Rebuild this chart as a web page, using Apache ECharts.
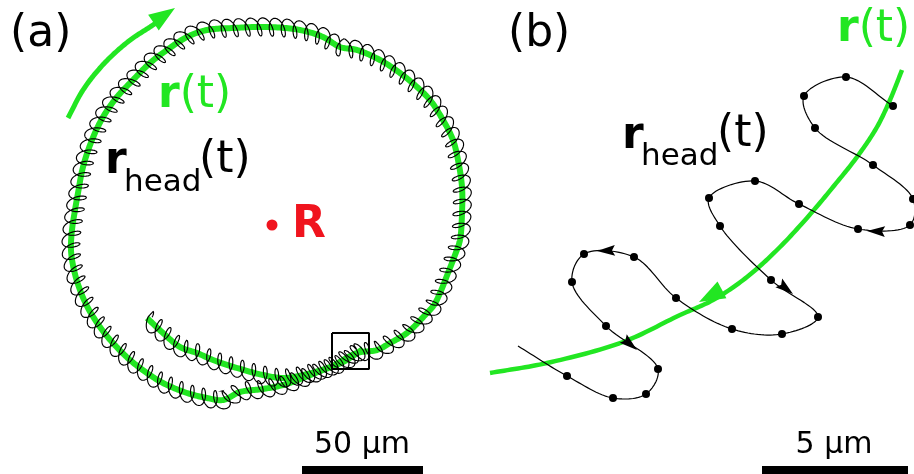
<!DOCTYPE html>
<html>
<head>
<meta charset="utf-8">
<script src="https://cdn.jsdelivr.net/npm/echarts@6/dist/echarts.min.js"></script>
<style>
  html, body { margin: 0; background: #fff; }
  #chart { width: 914px; height: 474px; }
</style>
</head>
<body>
<div id="chart"></div>
<script>
// All values in image units (x right, y down).

// (a) smoothed swimming path r(t), from the start inside the box, clockwise, to the inner end
const pathA = [
  [363, 349], [343, 362], [323, 370], [303, 378], [283, 385], [263, 389], [240, 392],
  [223, 400], [207, 398], [187, 393], [163, 383], [147, 373], [130, 360], [112, 342],
  [100, 327], [88, 308], [80, 290], [74, 270], [71, 250], [72, 230], [75, 210],
  [78, 193], [83, 167], [92, 140], [103, 117], [117, 97], [133, 80], [150, 63],
  [167, 50], [187, 37], [207, 30], [233, 28], [267, 27], [300, 30], [323, 37],
  [340, 47], [357, 50], [380, 60], [400, 73], [417, 87], [430, 100], [443, 120],
  [453, 140], [458, 160], [462, 187], [462, 213], [460, 240], [455, 255], [448, 273],
  [440, 293], [434, 305], [427, 313], [407, 333], [390, 343], [377, 350], [357, 353],
  [330, 367], [303, 375], [283, 378], [263, 375], [237, 368], [213, 360], [197, 353],
  [180, 347], [163, 333], [147, 318]
]
// (a) direction-of-motion arc, ending under its arrow tip
const arcA = [[68, 118], [83, 90], [100, 68], [117, 51], [133, 38], [150, 27], [163, 18]]
const centreR = [[272, 225]]
const boxA = [[332, 333], [369, 333], [369, 369], [332, 369], [332, 333]]
const scaleA = [[302, 470], [423, 470]]   // 50 µm

// (b) head positions sampled in time; the curve runs on to an unmarked tail
const dotsB = [
  [893, 106], [846, 77], [804, 96], [815, 128], [873, 165], [913, 199], [910, 225],
  [858, 229], [799, 204], [755, 181], [709, 198], [720, 226], [771, 280], [818, 317],
  [782, 334], [732, 329], [676, 298], [634, 257], [584, 254], [572, 282], [606, 326],
  [658, 369], [646, 394], [613, 398], [567, 376]
]
const tailB = [[518, 346]]
const greenB = [
  [902, 70], [890, 100], [877, 127], [857, 157], [833, 187], [813, 211], [780, 247],
  [747, 277], [713, 300], [680, 315], [623, 342], [547, 363], [490, 373]
]
const scaleB = [[762, 470], [908, 470]]   // 5 µm

// arrow tips: x, y, heading in degrees (counter-clockwise from +x)
const greenTips = [[175, 8, 34], [699, 302, 208]]
const blackTips = [[867, 231, 178], [793, 294, -38], [597, 251, 182], [637, 350, -40]]

const GREEN = '#22e622'
const RED = '#f0141e'
const FONT = '"DejaVu Sans", Verdana, sans-serif'

// coil drawn along the smoothed path: the head beats around r(t)
const PERIOD = 12, AMP = 9, LOOP = 5, PHASE = 0.45

function lerpAt(a, b, ta, tb, t) {
  const f = (t - ta) / (tb - ta)
  return [a[0] + (b[0] - a[0]) * f, a[1] + (b[1] - a[1]) * f]
}

// centripetal Catmull-Rom through the given pixel points
function densify(pts, n) {
  const m = pts.length
  const ext = [
    [2 * pts[0][0] - pts[1][0], 2 * pts[0][1] - pts[1][1]],
    ...pts,
    [2 * pts[m - 1][0] - pts[m - 2][0], 2 * pts[m - 1][1] - pts[m - 2][1]]
  ]
  const knot = (a, b) => Math.max(Math.sqrt(Math.hypot(b[0] - a[0], b[1] - a[1])), 1e-3)
  const out = []
  for (let i = 1; i < ext.length - 2; i++) {
    const p0 = ext[i - 1], p1 = ext[i], p2 = ext[i + 1], p3 = ext[i + 2]
    const t0 = 0, t1 = knot(p0, p1), t2 = t1 + knot(p1, p2), t3 = t2 + knot(p2, p3)
    for (let k = 0; k < n; k++) {
      const t = t1 + (t2 - t1) * k / n
      const a1 = lerpAt(p0, p1, t0, t1, t), a2 = lerpAt(p1, p2, t1, t2, t), a3 = lerpAt(p2, p3, t2, t3, t)
      const b1 = lerpAt(a1, a2, t0, t2, t), b2 = lerpAt(a2, a3, t1, t3, t)
      out.push(lerpAt(b1, b2, t1, t2, t))
    }
  }
  out.push(pts[m - 1])
  return out
}

function smoothCurve(points, color, width) {
  return function (params, api) {
    if (params.dataIndex !== 0) return null
    return {
      type: 'polyline',
      shape: { points: densify(points.map(p => api.coord(p)), 16) },
      style: { stroke: color, lineWidth: width, fill: null, lineJoin: 'round' }
    }
  }
}

function renderCoil(params, api) {
  if (params.dataIndex !== 0) return null
  const dense = densify(pathA.map(p => api.coord(p)), 16)
  const len = [0]
  for (let i = 1; i < dense.length; i++) {
    len.push(len[i - 1] + Math.hypot(dense[i][0] - dense[i - 1][0], dense[i][1] - dense[i - 1][1]))
  }
  const total = len[len.length - 1]
  let idx = 0
  function at(s) {
    s = Math.max(0, Math.min(total - 1e-6, s))
    while (idx > 0 && len[idx] > s) idx--
    while (idx < len.length - 2 && len[idx + 1] < s) idx++
    const a = dense[idx], b = dense[idx + 1]
    const seg = len[idx + 1] - len[idx] || 1
    const f = (s - len[idx]) / seg
    return { x: a[0] + (b[0] - a[0]) * f, y: a[1] + (b[1] - a[1]) * f,
             tx: (b[0] - a[0]) / seg, ty: (b[1] - a[1]) / seg }
  }
  const pts = []
  for (let s = 0; s <= total; s += 0.25) {
    const th = 2 * Math.PI * s / PERIOD
    const q = at(s + LOOP * Math.cos(th))
    const n = AMP * Math.sin(th + PHASE)
    pts.push([q.x - q.ty * n, q.y + q.tx * n])
  }
  return {
    type: 'polyline',
    shape: { points: pts },
    style: { stroke: '#000', lineWidth: 1.15, fill: null }
  }
}

function arrowHead(length, width, notch, color) {
  return function (params, api) {
    const tip = api.coord([api.value(0), api.value(1)])
    const a = api.value(2) * Math.PI / 180
    const dx = Math.cos(a), dy = -Math.sin(a)
    const bx = tip[0] - dx * length, by = tip[1] - dy * length
    const h = width / 2
    return {
      type: 'polygon',
      shape: { points: [
        tip,
        [bx - dy * h, by + dx * h],
        [bx + dx * notch, by + dy * notch],
        [bx + dy * h, by - dx * h]
      ] },
      style: { fill: color }
    }
  }
}

const chart = echarts.init(document.getElementById('chart'), null, { renderer: 'canvas' })

chart.setOption({
  animation: false,
  backgroundColor: '#fff',
  grid: { left: 0, right: 0, top: 0, bottom: 0 },
  xAxis: { type: 'value', min: 0, max: 914, show: false },
  yAxis: { type: 'value', min: 0, max: 474, inverse: true, show: false },
  series: [
    { type: 'custom', data: pathA, renderItem: smoothCurve(pathA, GREEN, 6), silent: true, z: 2 },
    { type: 'custom', data: pathA, renderItem: renderCoil, silent: true, z: 3 },
    {
      type: 'line', data: boxA, symbol: 'none', silent: true,
      lineStyle: { color: '#000', width: 2 }, z: 4
    },
    {
      type: 'scatter', data: centreR, symbol: 'circle', symbolSize: 11, silent: true,
      itemStyle: { color: RED, opacity: 1 }, z: 4
    },
    { type: 'custom', data: arcA, renderItem: smoothCurve(arcA, GREEN, 5), silent: true, z: 2 },
    { type: 'custom', data: greenB, renderItem: smoothCurve(greenB, GREEN, 4.5), silent: true, z: 2 },
    { type: 'custom', data: greenTips, renderItem: arrowHead(26, 19, 0, GREEN), silent: true, z: 3 },
    {
      type: 'custom', data: dotsB, renderItem: smoothCurve(dotsB.concat(tailB), '#000', 1.2),
      silent: true, z: 5
    },
    {
      type: 'scatter', data: dotsB, symbol: 'circle', symbolSize: 8, silent: true,
      itemStyle: { color: '#000', opacity: 1 }, z: 6
    },
    { type: 'custom', data: blackTips, renderItem: arrowHead(18, 11, 3, '#000'), silent: true, z: 6 },
    {
      type: 'line', data: scaleA, symbol: 'none', silent: true,
      lineStyle: { color: '#000', width: 8 }, z: 5
    },
    {
      type: 'line', data: scaleB, symbol: 'none', silent: true,
      lineStyle: { color: '#000', width: 8 }, z: 5
    }
  ],
  graphic: [
    { type: 'text', x: 10, y: 35, style: { text: '(a)', font: '44px ' + FONT, fill: '#000', verticalAlign: 'middle' } },
    { type: 'text', x: 508, y: 35, style: { text: '(b)', font: '44px ' + FONT, fill: '#000', verticalAlign: 'middle' } },
    {
      type: 'text', x: 158, y: 96,
      style: { text: '{b|r}(t)', fontSize: 44, fontFamily: FONT, fill: GREEN, verticalAlign: 'middle',
               rich: { b: { fontWeight: 'bold', fontSize: 44, fontFamily: FONT, fill: GREEN } } }
    },
    {
      type: 'text', x: 837, y: 30,
      style: { text: '{b|r}(t)', fontSize: 44, fontFamily: FONT, fill: GREEN, verticalAlign: 'middle',
               rich: { b: { fontWeight: 'bold', fontSize: 44, fontFamily: FONT, fill: GREEN } } }
    },
    { type: 'text', x: 105, y: 162, style: { text: 'r', font: 'bold 44px ' + FONT, fill: '#000', verticalAlign: 'middle' } },
    { type: 'text', x: 124, y: 183, style: { text: 'head', font: '31px ' + FONT, fill: '#000', verticalAlign: 'middle' } },
    { type: 'text', x: 199, y: 161, style: { text: '(t)', font: '44px ' + FONT, fill: '#000', verticalAlign: 'middle' } },
    { type: 'text', x: 622, y: 137, style: { text: 'r', font: 'bold 44px ' + FONT, fill: '#000', verticalAlign: 'middle' } },
    { type: 'text', x: 641, y: 157, style: { text: 'head', font: '31px ' + FONT, fill: '#000', verticalAlign: 'middle' } },
    { type: 'text', x: 717, y: 135, style: { text: '(t)', font: '44px ' + FONT, fill: '#000', verticalAlign: 'middle' } },
    { type: 'text', x: 292, y: 226, style: { text: 'R', font: 'bold 44px ' + FONT, fill: RED, verticalAlign: 'middle' } },
    { type: 'text', x: 362, y: 445, style: { text: '50 µm', font: '30px ' + FONT, fill: '#000', align: 'center', verticalAlign: 'middle' } },
    { type: 'text', x: 834, y: 445, style: { text: '5 µm', font: '30px ' + FONT, fill: '#000', align: 'center', verticalAlign: 'middle' } }
  ]
})
</script>
</body>
</html>
